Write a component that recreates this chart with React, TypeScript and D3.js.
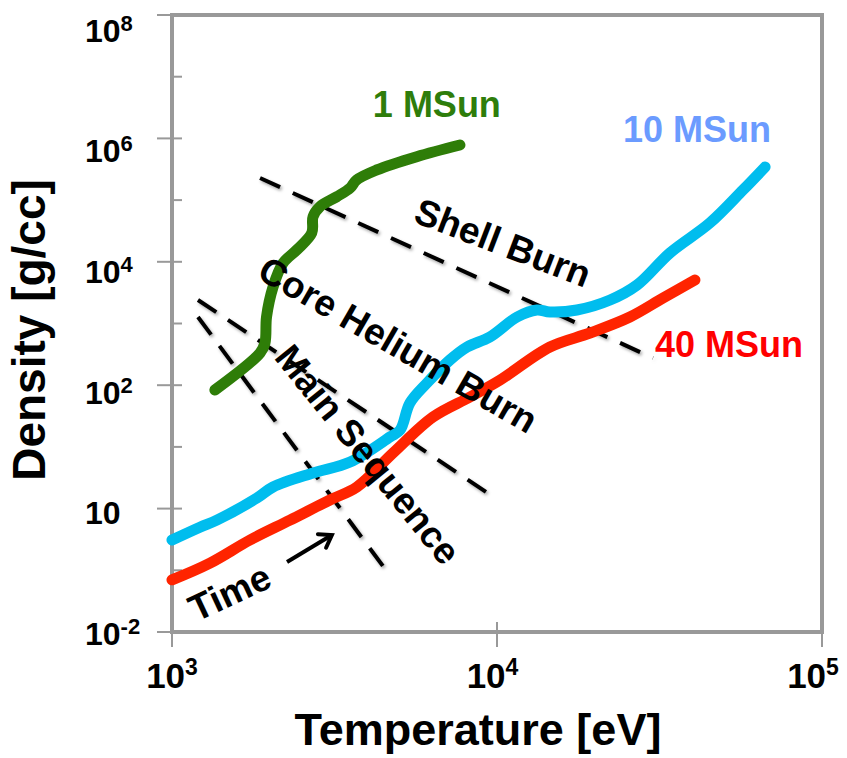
import React from 'react';
import * as d3 from 'd3';

// temperature [eV] and density [g/cc] along each track
const sun1T = [1355, 1866, 1932, 1954, 2046, 2198, 2421, 2692, 2716, 2851, 3214, 3532, 3698, 4266, 5662, 7691];
const sun1Rho = [83.6, 333, 483, 1288, 3908, 9572, 15600, 29400, 53800, 78200, 113500, 157000, 212000, 308000, 506000, 782000];

const sun10T = [1000, 1219, 1374, 1828, 2046, 2716, 3532, 4688, 5035, 5395, 6095, 7161, 8091, 9506, 11530, 13270, 14550, 17620, 22280, 26980, 34040, 45190, 57150, 66830];
const sun10Rho = [0.31, 0.5, 0.65, 1.49, 2.24, 3.78, 5.69, 14.5, 18.8, 51.4, 109, 256, 416, 604, 1274, 1656, 1535, 1656, 2404, 4207, 13900, 42600, 146000, 344000];

const sun40T = [1000, 1309, 1738, 2307, 3062, 3707, 4786, 6353, 8260, 10210, 14550, 19320, 25640, 32430, 40640];
const sun40Rho = [0.07, 0.131, 0.31, 0.65, 1.38, 2.24, 7.96, 30.5, 64.4, 121, 416, 701, 1274, 2588, 5070];

// dashed phase boundaries: [T0, rho0, T1, rho1]
const shellBurnLine = [1866, 228000, 30200, 276];
const coreHeliumLine = [1202, 2404, 9860, 1.49];
const mainSeqLine = [1202, 1274, 4627, 0.09];

const xTickExps = [3, 4, 5];
const yTickExps = [-2, -1, 0, 1, 2, 3, 4, 5, 6, 7, 8];
const yLabelExps = [-2, 0, 2, 4, 6, 8];

const W = 847;
const H = 758;
const FONT = '"Liberation Sans", Arial, Helvetica, sans-serif';
const AXIS = '#999999';

export default function App() {
  const x = d3.scaleLog().domain([1e3, 1e5]).range([172, 822]);
  const y = d3.scaleLog().domain([1e-2, 1e8]).range([632, 15]);

  const line = d3
    .line<[number, number]>()
    .x(d => x(d[0]))
    .y(d => y(d[1]))
    .curve(d3.curveCatmullRom.alpha(0.5));

  const zip = (a: number[], b: number[]) => a.map((v, i) => [v, b[i]] as [number, number]);

  const tracks = [
    { T: sun10T, rho: sun10Rho, color: '#00BDEE' },
    { T: sun40T, rho: sun40Rho, color: '#FF2400' },
    { T: sun1T, rho: sun1Rho, color: '#2E7D08' },
  ];

  const dashed = [shellBurnLine, coreHeliumLine, mainSeqLine];

  const notes = [
    { text: 'Shell Burn', T: 10420, rho: 20200, angle: 21 },
    { text: 'Core Helium Burn', T: 4955, rho: 449, angle: 30 },
    { text: 'Main Sequence', T: 4000, rho: 7.5, angle: 51 },
    { text: 'Time', T: 1507, rho: 0.043, angle: -25 },
  ];

  const labels = [
    { text: '1 MSun', T: 4150, rho: 2.22e6, color: '#2E7D0B' },
    { text: '10 MSun', T: 24430, rho: 8.75e5, color: '#6B9BFF' },
    { text: '40 MSun', T: 30620, rho: 286, color: '#FF0000' },
  ];

  const arrowFrom: [number, number] = [2259, 0.136];
  const arrowTo: [number, number] = [3104, 0.373];
  const ax0 = x(arrowFrom[0]), ay0 = y(arrowFrom[1]);
  const ax1 = x(arrowTo[0]), ay1 = y(arrowTo[1]);
  const ang = Math.atan2(ay1 - ay0, ax1 - ax0);
  const head = 14;
  const wing = (s: number) => [ax1 - head * Math.cos(ang + s * 0.6), ay1 - head * Math.sin(ang + s * 0.6)];

  return (
    <svg
      width={W}
      height={H}
      style={{ position: 'absolute', left: 0, top: 0, background: '#fff' }}
      fontFamily={FONT}
    >
      <defs>
        <filter id="shadow" x="-10%" y="-10%" width="130%" height="130%">
          <feDropShadow dx="1.5" dy="2" stdDeviation="1.5" floodColor="#000" floodOpacity="0.35" />
        </filter>
      </defs>

      {/* frame */}
      <rect x={172} y={15} width={650} height={617} fill="none" stroke={AXIS} strokeWidth={4} />

      {/* y ticks */}
      {yTickExps.map(e => {
        const yy = y(Math.pow(10, e));
        const major = yLabelExps.includes(e);
        return (
          <line key={e} x1={major ? 157 : 172} x2={182} y1={yy} y2={yy} stroke={AXIS} strokeWidth={2} />
        );
      })}
      {yLabelExps.map(e => (
        <text
          key={e}
          x={85}
          y={y(Math.pow(10, e)) + 13 + (e + 2) * 1.35}
          fontSize={32}
          fontWeight="bold"
          fill="#000"
        >
          10
          {e !== 0 && (
            <tspan fontSize={22} dy={-11}>
              {e}
            </tspan>
          )}
        </text>
      ))}

      {/* x ticks */}
      {xTickExps.map(e => {
        const xx = x(Math.pow(10, e));
        return (
          <g key={e}>
            <line x1={xx} x2={xx} y1={622} y2={647} stroke={AXIS} strokeWidth={2} />
            <text
              x={xx - (e - 3) * 4.5}
              y={688}
              fontSize={35}
              fontWeight="bold"
              textAnchor="middle"
              fill="#000"
            >
              10
              <tspan fontSize={23} dy={-13}>
                {e}
              </tspan>
            </text>
          </g>
        );
      })}

      {/* axis titles */}
      <text x={478} y={745} fontSize={45} fontWeight="bold" textAnchor="middle" fill="#000">
        Temperature [eV]
      </text>
      <text
        transform="translate(45,330) rotate(-90)"
        fontSize={46}
        fontWeight="bold"
        textAnchor="middle"
        fill="#000"
      >
        Density [g/cc]
      </text>

      {/* dashed boundaries */}
      {dashed.map((d, i) => (
        <line
          key={i}
          x1={x(d[0])}
          y1={y(d[1])}
          x2={x(d[2])}
          y2={y(d[3])}
          stroke="#000"
          strokeWidth={4}
          strokeDasharray="22 14"
          filter="url(#shadow)"
        />
      ))}

      {/* tracks */}
      {tracks.map((t, i) => (
        <path
          key={i}
          d={line(zip(t.T, t.rho)) || ''}
          fill="none"
          stroke={t.color}
          strokeWidth={11}
          strokeLinecap="round"
          strokeLinejoin="round"
        />
      ))}

      {/* annotations */}
      {notes.map(n => (
        <text
          key={n.text}
          transform={`translate(${x(n.T)},${y(n.rho)}) rotate(${n.angle})`}
          fontSize={37}
          fontWeight="bold"
          textAnchor="middle"
          dominantBaseline="central"
          fill="#000"
        >
          {n.text}
        </text>
      ))}

      <line x1={ax0} y1={ay0} x2={ax1} y2={ay1} stroke="#000" strokeWidth={4} />
      <polyline
        points={`${wing(1).join(',')} ${ax1},${ay1} ${wing(-1).join(',')}`}
        fill="none"
        stroke="#000"
        strokeWidth={4}
        strokeLinecap="round"
      />

      {labels.map(l => (
        <text key={l.text} x={x(l.T)} y={y(l.rho)} fontSize={36} fontWeight="bold" fill={l.color}>
          {l.text}
        </text>
      ))}
    </svg>
  );
}
